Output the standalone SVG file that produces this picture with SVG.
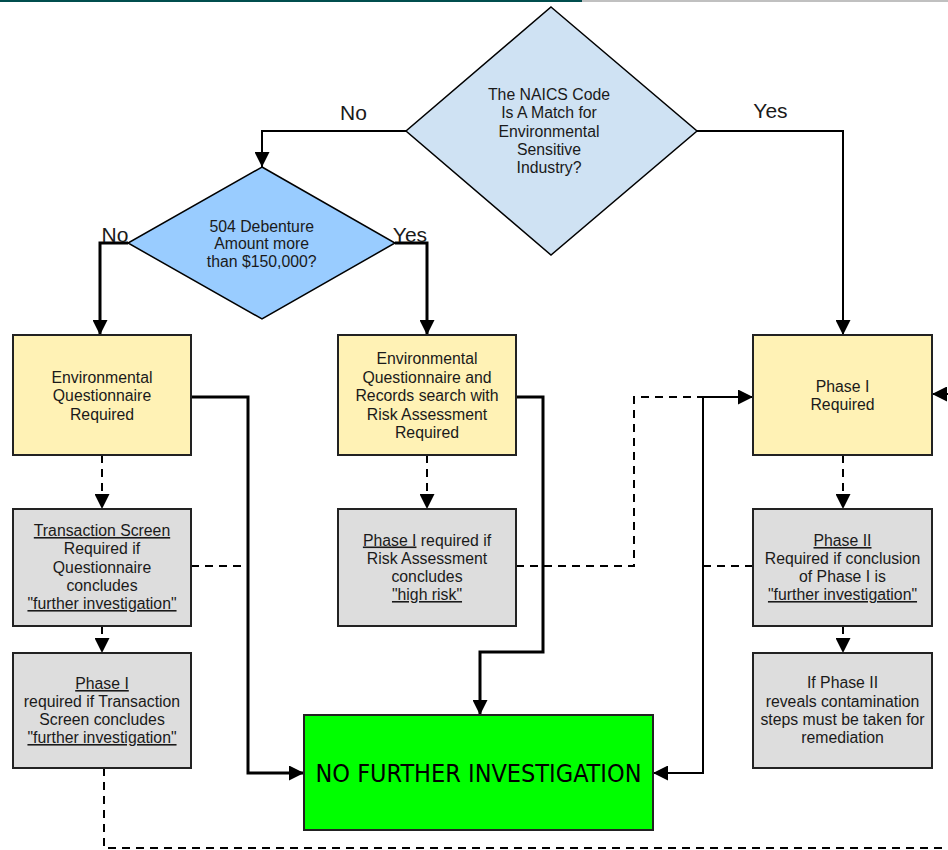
<svg xmlns="http://www.w3.org/2000/svg" width="948" height="850" viewBox="0 0 948 850">
<style>
text{font-family:"Liberation Sans",Arial,sans-serif;font-size:15.8px;fill:#1a1a1a;text-anchor:middle}
.lbl{font-size:21px}
.big{font-family:"DejaVu Sans Condensed","DejaVu Sans",sans-serif;font-stretch:condensed;font-size:25px;fill:#000}
.u{text-decoration:underline}
.yel{fill:#FFF2B5;stroke:#222;stroke-width:2}
.gry{fill:#DDDDDD;stroke:#222;stroke-width:2}
.dia{stroke:#000;stroke-width:1.5}
.c{fill:none;stroke:#000;stroke-width:2}
.t{fill:none;stroke:#000;stroke-width:3}
.d{fill:none;stroke:#000;stroke-width:2;stroke-dasharray:8 6}
</style>
<defs>
<marker id="ah" markerUnits="userSpaceOnUse" markerWidth="16" markerHeight="15" refX="15" refY="7.5" orient="auto" viewBox="0 0 16 15">
<path d="M0,0 L15,7.5 L0,15 z" fill="#000"/>
</marker>
</defs>
<line x1="0" y1="1" x2="582" y2="1" stroke="#004D4D" stroke-width="2"/>
<line x1="582" y1="1" x2="948" y2="1" stroke="#C0C0C0" stroke-width="2"/>

<g id="connectors">
<polyline class="c" points="406,131 262,131 262,167" marker-end="url(#ah)"/>
<polyline class="c" points="697,131 843,131 843,335" marker-end="url(#ah)"/>
<polyline class="t" points="128,243 100,243 100,335" marker-end="url(#ah)"/>
<polyline class="t" points="395,243 427,243 427,335" marker-end="url(#ah)"/>
<polyline class="t" points="191,397 248,397 248,773 304,773" marker-end="url(#ah)"/>
<polyline class="t" points="516,397 543,397 543,652 480,652 480,715" marker-end="url(#ah)"/>
<polyline class="d" points="102,455 102,509" marker-end="url(#ah)"/>
<polyline class="d" points="102,626 102,653" marker-end="url(#ah)"/>
<polyline class="d" points="427,455 427,509" marker-end="url(#ah)"/>
<polyline class="d" points="843,455 843,509" marker-end="url(#ah)"/>
<polyline class="d" points="843,626 843,653" marker-end="url(#ah)"/>
<polyline class="d" points="191,566 242,566"/>
<polyline class="d" points="516,566 634,566 634,397 703,397"/>
<polyline class="c" points="703,397 753,397" marker-end="url(#ah)"/>
<polyline class="c" points="703,397 703,773 653,773" marker-end="url(#ah)"/>
<polyline class="d" points="753,566 703,566"/>
<polyline class="d" points="104,768 104,848 960,848"/>
<polyline class="c" points="960,394 932,394" marker-end="url(#ah)"/>
<text class="lbl" x="353.5" y="120">No</text>
<text class="lbl" x="770.5" y="118">Yes</text>
<text class="lbl" x="115" y="242">No</text>
<text class="lbl" x="410" y="242">Yes</text>
</g>

<g id="naics">
<polygon class="dia" points="551,7 697,131 551,255 406,131" fill="#CFE2F3"/>
<text x="549" y="100">The NAICS Code</text>
<text x="549" y="118.3">Is A Match for</text>
<text x="549" y="136.7">Environmental</text>
<text x="549" y="155">Sensitive</text>
<text x="549" y="172.7">Industry?</text>
</g>

<g id="debenture">
<polygon class="dia" points="262,167 395,243 262,319 128,243" fill="#99CCFF"/>
<text x="261.7" y="231.7">504 Debenture</text>
<text x="261.7" y="249.3">Amount more</text>
<text x="261.7" y="267.3">than $150,000?</text>
</g>

<g id="env-questionnaire">
<rect class="yel" x="13" y="335" width="178" height="120"/>
<text x="102" y="383">Environmental</text>
<text x="102" y="401.3">Questionnaire</text>
<text x="102" y="419.6">Required</text>
</g>

<g id="transaction-screen">
<rect class="gry" x="13" y="509" width="178" height="117"/>
<text x="102" y="536"><tspan class="u">Transaction Screen</tspan></text>
<text x="102" y="554.3">Required if</text>
<text x="102" y="572.6">Questionnaire</text>
<text x="102" y="591">concludes</text>
<text x="102" y="609"><tspan class="u">"further investigation"</tspan></text>
</g>

<g id="phase1-transaction">
<rect class="gry" x="13" y="653" width="178" height="115"/>
<text x="102" y="689"><tspan class="u">Phase I</tspan></text>
<text x="102" y="707">required if Transaction</text>
<text x="102" y="725">Screen concludes</text>
<text x="102" y="743"><tspan class="u">"further investigation"</tspan></text>
</g>

<g id="env-records">
<rect class="yel" x="338" y="335" width="178" height="120"/>
<text x="427" y="364">Environmental</text>
<text x="427" y="382.5">Questionnaire and</text>
<text x="427" y="401">Records search with</text>
<text x="427" y="419.5">Risk Assessment</text>
<text x="427" y="438">Required</text>
</g>

<g id="phase1-risk">
<rect class="gry" x="338" y="509" width="178" height="117"/>
<text x="427" y="545.5"><tspan class="u">Phase I</tspan> required if</text>
<text x="427" y="564">Risk Assessment</text>
<text x="427" y="582">concludes</text>
<text x="427" y="600"><tspan class="u">"high risk"</tspan></text>
</g>

<g id="phase1-required">
<rect class="yel" x="753" y="335" width="179" height="120"/>
<text x="842.5" y="391.7">Phase I</text>
<text x="842.5" y="410">Required</text>
</g>

<g id="phase2">
<rect class="gry" x="753" y="509" width="179" height="117"/>
<text x="842.5" y="546"><tspan class="u">Phase II</tspan></text>
<text x="842.5" y="564">Required if conclusion</text>
<text x="842.5" y="582">of Phase I is</text>
<text x="842.5" y="600"><tspan class="u">"further investigation"</tspan></text>
</g>

<g id="remediation">
<rect class="gry" x="753" y="653" width="179" height="115"/>
<text x="842.5" y="688">If Phase II</text>
<text x="842.5" y="706.5">reveals contamination</text>
<text x="842.5" y="725">steps must be taken for</text>
<text x="842.5" y="743">remediation</text>
</g>

<g id="no-further">
<rect x="304" y="715" width="349" height="115" fill="#00FF00" stroke="#222" stroke-width="2"/>
<text class="big" x="478.5" y="782">NO FURTHER INVESTIGATION</text>
</g>
</svg>
